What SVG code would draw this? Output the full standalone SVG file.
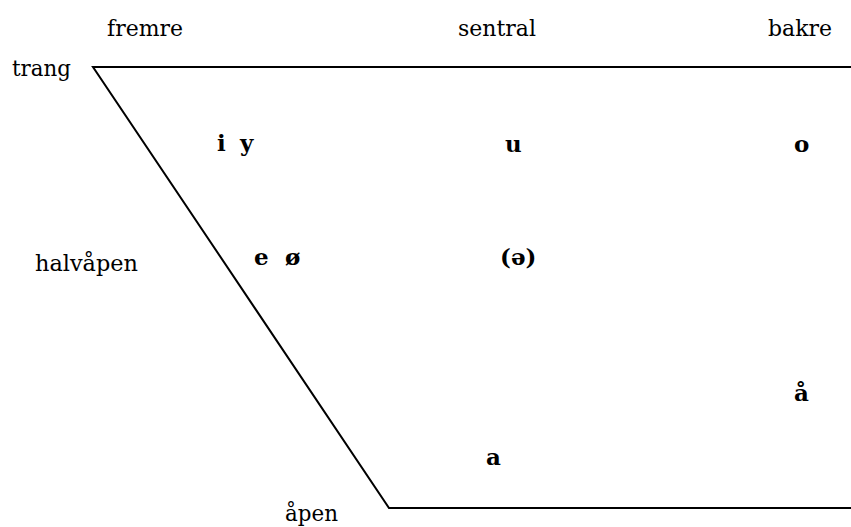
<svg xmlns="http://www.w3.org/2000/svg" width="851" height="527" viewBox="0 0 851 527">
<style>
text{font-family:'DejaVu Serif','Liberation Serif',serif;fill:#000}
.lbl{font-size:23px}
.v{font-size:23px;font-weight:bold}
.ln{stroke:#000;stroke-width:2;fill:none}
</style>
<rect width="851" height="527" fill="#fff"/>
<g id="connectors">
<polyline class="ln" points="851,67 93,67 389,508 851,508"/>
</g>
<g id="axis-labels">
<text class="lbl" x="107" y="36" textLength="76" lengthAdjust="spacingAndGlyphs">fremre</text>
<text class="lbl" x="458" y="36" textLength="78" lengthAdjust="spacingAndGlyphs">sentral</text>
<text class="lbl" x="768" y="36" textLength="64" lengthAdjust="spacingAndGlyphs">bakre</text>
<text class="lbl" x="12" y="76" textLength="59" lengthAdjust="spacingAndGlyphs">trang</text>
<text class="lbl" x="35" y="271" textLength="103" lengthAdjust="spacingAndGlyphs">halvåpen</text>
<text class="lbl" x="285" y="521" textLength="53" lengthAdjust="spacingAndGlyphs">åpen</text>
</g>
<g id="vowel-i"><text class="v" x="217" y="151">i</text></g>
<g id="vowel-y"><text class="v" x="240" y="151">y</text></g>
<g id="vowel-u"><text class="v" x="505" y="152">u</text></g>
<g id="vowel-o"><text class="v" x="794" y="152">o</text></g>
<g id="vowel-e"><text class="v" x="254" y="265">e</text></g>
<g id="vowel-oe"><text class="v" x="285" y="265">ø</text></g>
<g id="vowel-schwa"><text class="v" x="500" y="265">(ə)</text></g>
<g id="vowel-aa"><text class="v" x="794" y="401">å</text></g>
<g id="vowel-a"><text class="v" x="486" y="465">a</text></g>
</svg>
